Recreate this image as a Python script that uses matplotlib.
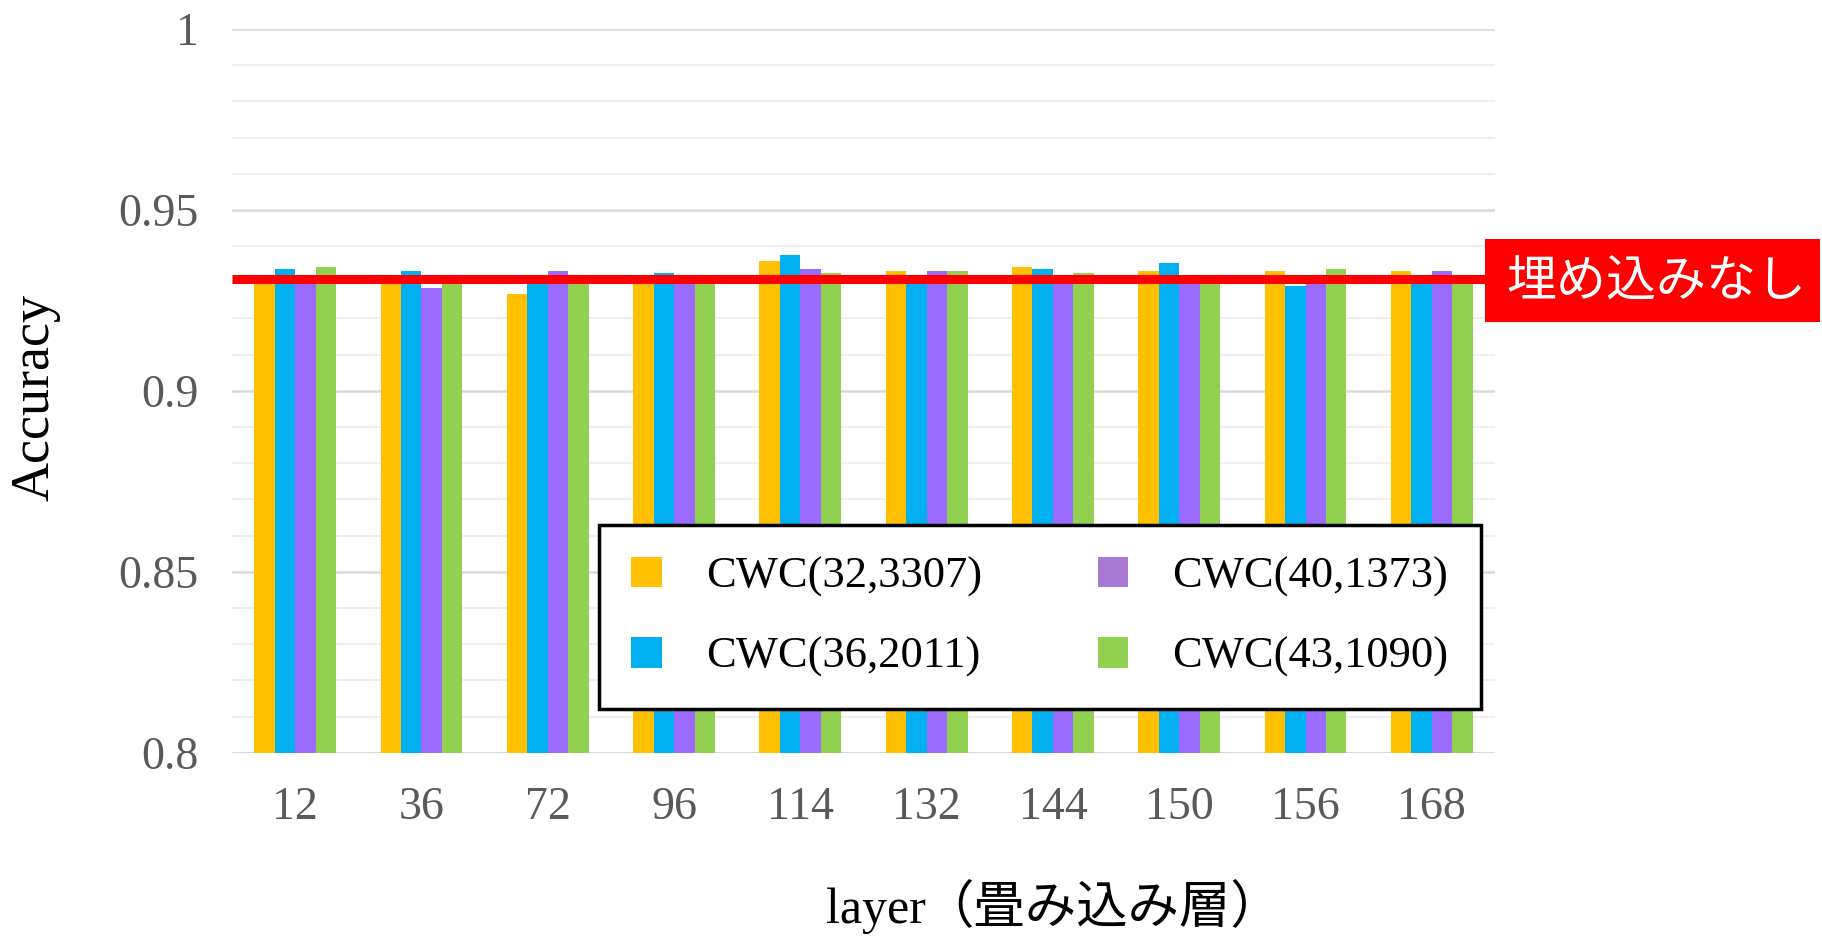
import matplotlib
matplotlib.use("Agg")
import matplotlib.pyplot as plt
import numpy as np
from matplotlib.patches import Patch, Rectangle

layers = ['12', '36', '72', '96', '114', '132', '144', '150', '156', '168']
series_names = ['CWC(32,3307)', 'CWC(36,2011)', 'CWC(40,1373)', 'CWC(43,1090)']
cwc32 = [0.931, 0.931, 0.9268, 0.931, 0.9359, 0.9332, 0.9343, 0.9332, 0.9332, 0.9332]
cwc36 = [0.9337, 0.9332, 0.9305, 0.9327, 0.9375, 0.931, 0.9337, 0.9353, 0.9291, 0.931]
cwc40 = [0.931, 0.9284, 0.9332, 0.931, 0.9337, 0.9332, 0.931, 0.931, 0.931, 0.9332]
cwc43 = [0.9342, 0.9305, 0.9305, 0.9305, 0.9327, 0.9332, 0.9327, 0.9305, 0.9337, 0.9305]
baseline = 0.9308
baseline_label = '埋め込みなし'
yticks = [0.8, 0.85, 0.9, 0.95, 1]
ytick_labels = ['0.8', '0.85', '0.9', '0.95', '1']

bar_colors = ['#FFC000', '#00B0F0', '#9B6BFF', '#92D050']
legend_colors = ['#FFC000', '#00B0F0', '#A878D2', '#92D050']

W, H = 1822, 941
fig = plt.figure(figsize=(W / 100, H / 100), dpi=100)
ax = fig.add_axes([232 / W, 1 - 752.7 / H, (1495 - 232) / W, (752.7 - 29) / H])

serif = 'Liberation Serif'
x = np.arange(len(layers))
w = 0.162
data = [cwc32, cwc36, cwc40, cwc43]
for i, vals in enumerate(data):
    ax.bar(x + (i - 1.5) * w, vals, width=w, color=bar_colors[i], zorder=3, linewidth=0)

ax.set_xlim(-0.5, len(layers) - 0.5)
ax.set_ylim(0.8, 1.0)
ax.set_yticks(yticks)
ax.set_yticklabels(ytick_labels, fontfamily=serif, fontsize=33, color='#595959')
ax.set_yticks(np.arange(0.8, 1.0001, 0.01), minor=True)
ax.set_xticks(x)
ax.set_xticklabels(layers, fontfamily=serif, fontsize=33, color='#595959')
ax.tick_params(axis='both', which='both', length=0)
ax.tick_params(axis='y', pad=24)
ax.tick_params(axis='x', pad=24)
for s in ax.spines.values():
    s.set_visible(False)
ax.grid(axis='y', which='minor', color='#EFEFEF', linewidth=1.5, zorder=0)
ax.grid(axis='y', which='major', color='#D9D9D9', linewidth=1.8, zorder=0)
ax.axhline(0.8, color='#D0D0D0', linewidth=2, zorder=1)

ax.axhline(baseline, color='#FF0000', linewidth=6.5, zorder=4, solid_capstyle='butt')

# red label box
fig.patches.append(Rectangle((1485 / W, 1 - 322 / H), (1820 - 1485) / W, 83 / H,
                             transform=fig.transFigure, facecolor='#FF0000',
                             edgecolor='none', zorder=5))
fig.text(1656 / W, 1 - 281 / H, baseline_label, color='white', fontsize=36,
         family=['Noto Sans CJK JP', 'DejaVu Sans'], ha='center', va='center', zorder=6)

handles = [Patch(facecolor=c, edgecolor='none') for c in legend_colors]
leg = ax.legend(handles, series_names, ncol=2, loc='center',
                bbox_to_anchor=(1040 / W, 1 - 617 / H), bbox_transform=fig.transFigure,
                prop={'family': serif, 'size': 32}, frameon=True, fancybox=False,
                edgecolor='black', framealpha=1, handlelength=0.68, handleheight=0.68,
                handletextpad=1.0, columnspacing=2.6, labelspacing=0.9, borderpad=0.72)
leg.get_frame().set_linewidth(2.5)
leg.set_zorder(10)

fig.text(35 / W, 1 - 397 / H, 'Accuracy', rotation=90, fontfamily=serif,
         fontsize=39, ha='center', va='center', color='black')
fig.text(826 / W, 1 - 923 / H, 'layer', fontsize=36, fontfamily=serif,
         ha='left', va='baseline', color='black')
fig.text(922 / W, 1 - 923 / H, '（畳み込み層）', fontsize=37,
         family=['Noto Sans CJK JP', 'DejaVu Sans'], ha='left', va='baseline', color='black')

fig.savefig('out.png', dpi=100)
